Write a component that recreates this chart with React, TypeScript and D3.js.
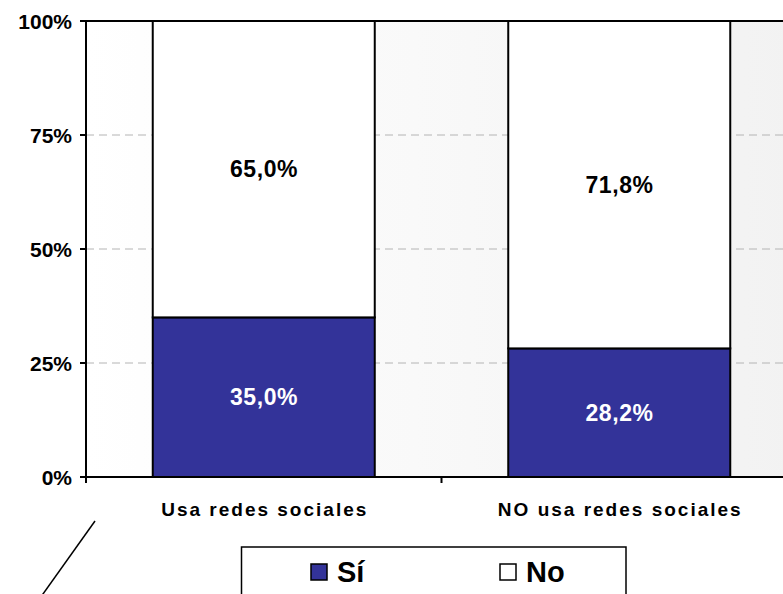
import React from "react";
import * as d3 from "d3";

const categories = ["Usa redes sociales", "NO usa redes sociales"];
const siValues = [35.0, 28.2];
const noValues = [65.0, 71.8];
const yTicks = [0, 25, 50, 75, 100];
const seriesNames = ["Sí", "No"];
const seriesColors = ["#333399", "#ffffff"];

const W = 783;
const H = 594;
const FONT = "'Liberation Sans', Arial, sans-serif";

export default function App() {
  const plotLeft = 86;
  const plotRight = 797;
  const plotTop = 21;
  const plotBottom = 477;

  const x = d3
    .scaleBand<string>()
    .domain(categories)
    .range([plotLeft, plotRight])
    .paddingInner(0.3755)
    .paddingOuter(0.3755 / 2);
  const y = d3.scaleLinear().domain([0, 100]).range([plotBottom, plotTop]);
  const step = x.step();
  const bw = x.bandwidth();

  const stacked = d3
    .stack<any>()
    .keys(["si", "no"])(categories.map((c, i) => ({ cat: c, si: siValues[i], no: noValues[i] })));

  const catBoundaries = d3.range(categories.length + 1).map((i) => plotLeft + i * step);

  return (
    <svg
      width={W}
      height={H}
      style={{ position: "absolute", left: 0, top: 0, background: "#fff" }}
      fontFamily={FONT}
    >
      <defs>
        <linearGradient id="bg" x1={plotLeft} x2={plotRight} y1={0} y2={0} gradientUnits="userSpaceOnUse">
          <stop offset="0" stopColor="#ffffff" />
          <stop offset="1" stopColor="#f2f2f2" />
        </linearGradient>
      </defs>
      <rect x={plotLeft} y={plotTop} width={plotRight - plotLeft} height={plotBottom - plotTop} fill="url(#bg)" />

      {yTicks
        .filter((t) => t > 0 && t < 100)
        .map((t) => (
          <line
            key={"g" + t}
            x1={plotLeft}
            x2={plotRight}
            y1={y(t)}
            y2={y(t)}
            stroke="#b4b4b4"
            strokeWidth={1}
            strokeDasharray="8,5"
          />
        ))}

      {stacked.map((layer, li) =>
        layer.map((d, i) => (
          <rect
            key={li + "-" + i}
            x={x(categories[i])}
            y={y(d[1])}
            width={bw}
            height={y(d[0]) - y(d[1])}
            fill={seriesColors[li]}
            stroke="#000"
            strokeWidth={2}
          />
        ))
      )}

      {stacked.map((layer, li) =>
        layer.map((d, i) => {
          const v = li === 0 ? siValues[i] : noValues[i];
          return (
            <text
              key={"t" + li + "-" + i}
              x={(x(categories[i]) as number) + bw / 2 + 0.3}
              y={(y(d[0]) + y(d[1])) / 2}
              dy="0.36em"
              textAnchor="middle"
              fontWeight="bold"
              fontSize={23}
              letterSpacing={0.6}
              fill={li === 0 ? "#ffffff" : "#000000"}
            >
              {v.toFixed(1).replace(".", ",") + "%"}
            </text>
          );
        })
      )}

      {/* axes */}
      <line x1={plotLeft} x2={plotRight} y1={plotTop} y2={plotTop} stroke="#000" strokeWidth={2} />
      <line x1={plotLeft} x2={plotLeft} y1={plotTop} y2={plotBottom} stroke="#000" strokeWidth={2} />
      <line x1={plotLeft} x2={plotRight} y1={plotBottom} y2={plotBottom} stroke="#000" strokeWidth={2} />
      {yTicks.map((t) => (
        <g key={"yt" + t}>
          <line x1={plotLeft - 6} x2={plotLeft} y1={y(t)} y2={y(t)} stroke="#000" strokeWidth={2} />
          <text
            x={72}
            y={y(t)}
            dy="0.36em"
            textAnchor="end"
            fontWeight="bold"
            fontSize={21}
            fill="#000"
          >
            {t + "%"}
          </text>
        </g>
      ))}
      {catBoundaries.map((b, i) => (
        <line key={"xt" + i} x1={b} x2={b} y1={plotBottom} y2={plotBottom + 6} stroke="#000" strokeWidth={2} />
      ))}
      {categories.map((c) => (
        <text
          key={"c" + c}
          x={(x(c) as number) + bw / 2 + 1}
          y={516}
          textAnchor="middle"
          fontWeight="bold"
          fontSize={19}
          letterSpacing={2}
          fill="#000"
        >
          {c}
        </text>
      ))}

      {/* decorative diagonal */}
      <line x1={95} y1={521} x2={38} y2={601} stroke="#000" strokeWidth={1.5} />

      {/* legend */}
      <rect x={241.5} y={547} width={384.5} height={80} fill="#fff" stroke="#000" strokeWidth={1.5} />
      {seriesNames.map((s, i) => {
        const lx = [311, 500][i];
        return (
          <g key={"lg" + s}>
            <rect x={lx} y={564} width={16} height={16} fill={seriesColors[i]} stroke="#000" strokeWidth={1.5} />
            <text x={lx + 26} y={582} fontWeight="bold" fontSize={29} fill="#000">
              {s}
            </text>
          </g>
        );
      })}
    </svg>
  );
}
